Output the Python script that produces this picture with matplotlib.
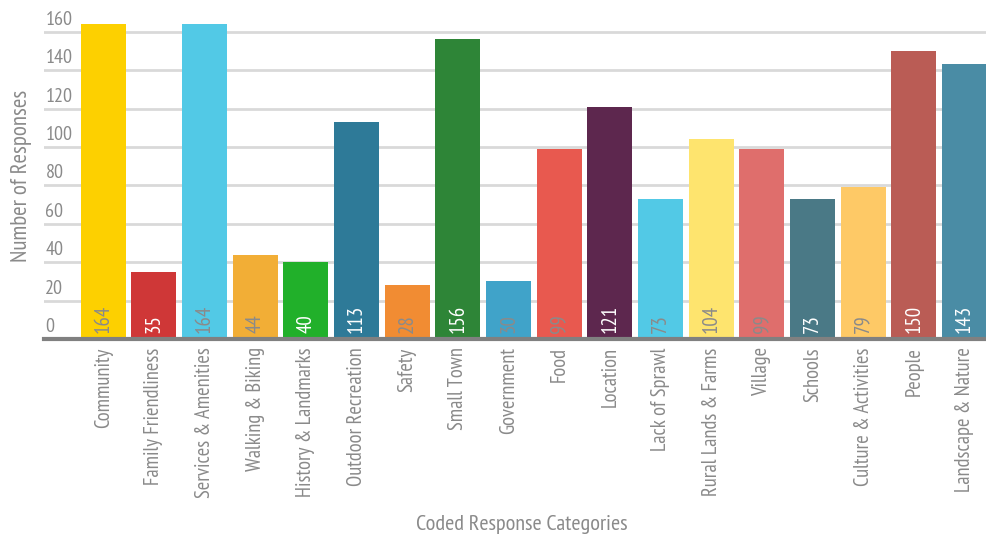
import matplotlib
matplotlib.use("Agg")
import matplotlib.pyplot as plt
import matplotlib.transforms as mtransforms

categories = ["Community", "Family Friendliness", "Services & Amenities", "Walking & Biking",
              "History & Landmarks", "Outdoor Recreation", "Safety", "Small Town", "Government",
              "Food", "Location", "Lack of Sprawl", "Rural Lands & Farms", "Village", "Schools",
              "Culture & Activities", "People", "Landscape & Nature"]
counts = [164, 35, 164, 44, 40, 113, 28, 156, 30, 99, 121, 73, 104, 99, 73, 79, 150, 143]
bar_colors = ["#FDD000", "#CF3737", "#52C9E6", "#F2AE36", "#21B02A", "#2E7A98", "#F18C33",
              "#2E8537", "#40A3C9", "#E8594F", "#5D274E", "#52C9E6", "#FEE46E", "#DF6E6C",
              "#4A7986", "#FEC966", "#BA5C55", "#4A8CA5"]
label_colors = ["#8a8a8a", "white", "#8a8a8a", "#8a8a8a", "white", "white", "#8a8a8a", "white",
                "#8a8a8a", "#8a8a8a", "white", "#8a8a8a", "#8a8a8a", "#8a8a8a", "white",
                "#8a8a8a", "white", "white"]
yticks = [0, 20, 40, 60, 80, 100, 120, 140, 160]

plt.rcParams["font.family"] = ["PT Sans Narrow", "DejaVu Sans"]
grey = "#8a8a8a"

fig = plt.figure(figsize=(9.87, 5.41), dpi=100)
ax = fig.add_axes([44 / 987, (541 - 339) / 541, 943 / 987, (339 - 12.6) / 541])

x = list(range(len(categories)))
ax.bar(x, counts, width=0.89, color=bar_colors, zorder=2)

ax.set_xlim(-1.17, 17.445)
ax.set_ylim(0, 170)

# gridlines, with their labels sitting just above them at the left edge
ax.set_yticks(yticks)
ax.yaxis.grid(True, color="#d9d9d9", linewidth=2, zorder=0)
ax.tick_params(axis="y", length=0, labelleft=False)
off = mtransforms.ScaledTranslation(1 / 72, 5 / 72, fig.dpi_scale_trans)
for v in yticks:
    ax.text(0, v, str(v), transform=ax.get_yaxis_transform() + off,
            ha="left", va="baseline", fontsize=14.5, color=grey)

ax.set_xticks(x)
ax.set_xticklabels(categories, rotation=90, fontsize=14.8, color=grey)
ax.tick_params(axis="x", length=0, pad=6)

for s in ["top", "right", "left"]:
    ax.spines[s].set_visible(False)
ax.spines["bottom"].set_color("#808080")
ax.spines["bottom"].set_linewidth(3)
ax.spines["bottom"].set_zorder(3)

voff = mtransforms.ScaledTranslation(0, 4 / 72, fig.dpi_scale_trans)
for xi, c, lc in zip(x, counts, label_colors):
    ax.text(xi, 0, str(c), transform=ax.transData + voff, rotation=90,
            ha="center", va="bottom", fontsize=15, color=lc, zorder=4)

ax.set_ylabel("Number of Responses", fontsize=16.5, color=grey)
ax.yaxis.set_label_coords(-12 / 943, 0.5)
fig.text(522 / 987, 1 - 525 / 541, "Coded Response Categories", ha="center", va="center",
         fontsize=16, color=grey)

fig.savefig("out.png", dpi=100)
